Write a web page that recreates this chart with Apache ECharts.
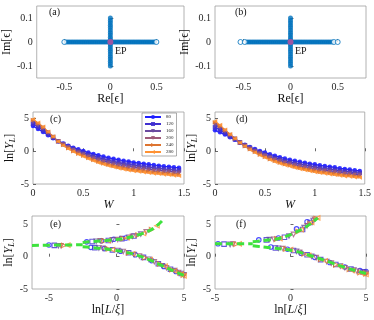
<!DOCTYPE html>
<html>
<head>
<meta charset="utf-8">
<script src="https://cdn.jsdelivr.net/npm/echarts@6/dist/echarts.min.js"></script>
<style>
  html, body { margin: 0; padding: 0; background: #fff; }
  #chart { width: 374px; height: 320px; }
</style>
</head>
<body>
<div id="chart"></div>
<script>
// (a),(b) eigenvalues in the complex plane
var reBandA = [-0.48,-0.46,-0.44,-0.42,-0.4,-0.38,-0.36,-0.34,-0.32,-0.3,-0.28,-0.26,-0.24,-0.22,-0.2,-0.18,-0.16,-0.14,-0.12,-0.1,-0.08,-0.06,-0.04,-0.02,0,0.02,0.04,0.06,0.08,0.1,0.12,0.14,0.16,0.18,0.2,0.22,0.24,0.26,0.28,0.3,0.32,0.34,0.36,0.38,0.4,0.42,0.44,0.46,0.48];
var reEndsA = [-0.5, 0.5];
var reBandB = [-0.46,-0.44,-0.42,-0.4,-0.38,-0.36,-0.34,-0.32,-0.3,-0.28,-0.26,-0.24,-0.22,-0.2,-0.18,-0.16,-0.14,-0.12,-0.1,-0.08,-0.06,-0.04,-0.02,0,0.02,0.04,0.06,0.08,0.1,0.12,0.14,0.16,0.18,0.2,0.22,0.24,0.26,0.28,0.3,0.32,0.34,0.36,0.38,0.4,0.42,0.44];
var reEndsB = [-0.53, -0.485, 0.46, 0.5];
var imBand = [-0.1,-0.09,-0.08,-0.07,-0.06,-0.05,-0.04,-0.03,-0.02,-0.01,0,0.01,0.02,0.03,0.04,0.05,0.06,0.07,0.08,0.09,0.1];
var epPoint = [0, 0];

// (c),(d) ln[Y_L] vs W
var sizes = ['80','120','160','200','240','280'];
var W = [0,0.05,0.1,0.15,0.2,0.25,0.3,0.35,0.4,0.45,0.5,0.55,0.6,0.65,0.7,0.75,0.8,0.85,0.9,0.95,1,1.05,1.1,1.15,1.2,1.25,1.3,1.35,1.4,1.45];
var cY80  = [3.85,3.4,2.95,2.45,2.0,1.55,1.2,0.85,0.55,0.3,0.05,-0.2,-0.4,-0.6,-0.8,-1.0,-1.15,-1.3,-1.45,-1.55,-1.7,-1.8,-1.9,-2.0,-2.1,-2.2,-2.3,-2.35,-2.45,-2.5];
var cY120 = [4.2,3.71,3.21,2.63,2.08,1.53,1.1,0.7,0.35,0.05,-0.23,-0.51,-0.75,-0.98,-1.2,-1.4,-1.56,-1.73,-1.88,-2.0,-2.13,-2.23,-2.33,-2.43,-2.53,-2.61,-2.71,-2.76,-2.86,-2.91];
var cY160 = [4.44,3.93,3.4,2.76,2.14,1.52,1.03,0.6,0.21,-0.12,-0.43,-0.73,-0.99,-1.24,-1.47,-1.67,-1.85,-2.03,-2.18,-2.31,-2.43,-2.53,-2.63,-2.73,-2.83,-2.9,-3.0,-3.05,-3.15,-3.2];
var cY200 = [4.63,4.1,3.54,2.86,2.19,1.51,0.98,0.52,0.11,-0.26,-0.58,-0.9,-1.18,-1.45,-1.69,-1.89,-2.08,-2.26,-2.41,-2.55,-2.66,-2.76,-2.86,-2.96,-3.06,-3.13,-3.23,-3.28,-3.38,-3.43];
var cY240 = [4.77,4.24,3.65,2.93,2.22,1.51,0.94,0.45,0.02,-0.36,-0.7,-1.04,-1.32,-1.61,-1.86,-2.06,-2.25,-2.44,-2.59,-2.74,-2.84,-2.94,-3.04,-3.14,-3.24,-3.3,-3.4,-3.45,-3.55,-3.6];
var cY280 = [4.9,4.35,3.75,3.0,2.25,1.5,0.9,0.4,-0.05,-0.45,-0.8,-1.15,-1.45,-1.75,-2.0,-2.2,-2.4,-2.6,-2.75,-2.9,-3.0,-3.1,-3.2,-3.3,-3.4,-3.45,-3.55,-3.6,-3.7,-3.75];
var dY80  = [3.2,2.9,2.55,2.15,1.75,1.35,1.0,0.65,0.35,0.05,-0.2,-0.45,-0.7,-0.9,-1.1,-1.3,-1.45,-1.6,-1.75,-1.9,-2.0,-2.15,-2.25,-2.35,-2.45,-2.6,-2.7,-2.8,-2.9,-3.0];
var dY120 = [3.66,3.26,2.8,2.3,1.82,1.33,0.92,0.52,0.17,-0.16,-0.45,-0.73,-1.0,-1.21,-1.43,-1.63,-1.8,-1.96,-2.11,-2.26,-2.38,-2.53,-2.63,-2.73,-2.83,-2.96,-3.06,-3.15,-3.25,-3.33];
var dY160 = [3.98,3.52,2.97,2.4,1.86,1.32,0.86,0.43,0.04,-0.31,-0.62,-0.93,-1.2,-1.43,-1.66,-1.86,-2.04,-2.22,-2.37,-2.52,-2.64,-2.79,-2.89,-2.99,-3.09,-3.22,-3.32,-3.39,-3.49,-3.56];
var dY200 = [4.24,3.71,3.11,2.48,1.9,1.31,0.82,0.35,-0.06,-0.43,-0.76,-1.08,-1.37,-1.6,-1.84,-2.04,-2.23,-2.41,-2.56,-2.71,-2.85,-3.0,-3.1,-3.2,-3.3,-3.41,-3.51,-3.58,-3.68,-3.74];
var dY240 = [4.43,3.87,3.21,2.55,1.93,1.31,0.78,0.3,-0.13,-0.52,-0.86,-1.2,-1.49,-1.74,-1.98,-2.18,-2.37,-2.57,-2.72,-2.87,-3.01,-3.16,-3.26,-3.36,-3.46,-3.57,-3.67,-3.72,-3.82,-3.88];
var dY280 = [4.6,4.0,3.3,2.6,1.95,1.3,0.75,0.25,-0.2,-0.6,-0.95,-1.3,-1.6,-1.85,-2.1,-2.3,-2.5,-2.7,-2.85,-3.0,-3.15,-3.3,-3.4,-3.5,-3.6,-3.7,-3.8,-3.85,-3.95,-4.0];

// (e),(f) scaling collapse: [ln(L/xi), ln Y_L]
var e80  = [[-5,1.8],[-2.2,2.3],[-1.1,2.45],[-0.2,2.7],[0.7,2.9],[-1.9,1.45],[-0.9,1.25],[0.3,0.85],[1.4,0.3],[2.6,-0.6],[3.5,-1.5],[4.4,-2.3]];
var e120 = [[-4.6,1.75],[-1.8,2.35],[-0.6,2.5],[0.4,2.8],[1.3,3.2],[-1.6,1.4],[-0.3,1.05],[0.9,0.6],[2.0,-0.1],[3.1,-1.1],[4.0,-1.95],[4.8,-2.6]];
var e160 = [[-4.3,1.7],[-1.5,2.4],[-0.3,2.6],[0.9,3.0],[1.8,3.5],[-1.3,1.35],[0.1,0.95],[1.3,0.35],[2.4,-0.4],[3.4,-1.4],[4.3,-2.15],[5.0,-2.8]];
var e200 = [[-4.1,1.7],[-1.2,2.45],[0.1,2.65],[1.2,3.15],[2.2,3.85],[-1.0,1.3],[0.5,0.8],[1.7,0.1],[2.8,-0.8],[3.7,-1.7],[4.6,-2.45],[5.0,-2.9]];
var e240 = [[-3.9,1.75],[-0.9,2.45],[0.5,2.8],[1.6,3.35],[2.6,4.2],[-0.6,1.2],[0.9,0.6],[2.1,-0.15],[3.2,-1.1],[4.1,-2.0],[4.7,-2.5],[4.95,-2.85]];
var e280 = [[-3.6,1.8],[-0.6,2.5],[0.8,2.95],[2.0,3.6],[3.0,4.8],[-0.3,1.1],[1.2,0.45],[2.5,-0.45],[3.6,-1.45],[4.3,-2.2],[4.8,-2.65],[5.0,-2.95]];
var eFitFlat  = [[-6.25,1.75],[-2.5,1.85]];
var eFitUpper = [[-2.5,2.2],[-2,2.3],[-1,2.45],[0,2.65],[1,3.0],[1.5,3.3],[2,3.65],[2.5,4.1],[3,4.8],[3.4,5.6]];
var eFitLower = [[-2.5,1.55],[-2,1.45],[-1,1.25],[0,0.95],[1,0.55],[2,-0.1],[3,-1.0],[4,-2.0],[5,-2.9]];

var f80  = [[-4.8,2.0],[-2.1,2.6],[-0.8,2.9],[0.4,4.3],[1.1,5.4],[-1.3,1.5],[-0.2,1.15],[0.7,0.55],[1.6,-0.1],[2.6,-0.9],[3.6,-1.6],[4.6,-2.15],[5,-2.3]];
var f120 = [[-4.4,1.95],[-1.6,2.6],[-0.4,3.0],[0.8,4.2],[1.3,5.3],[-1.0,1.35],[0.2,0.95],[1.1,0.3],[2.0,-0.45],[3.0,-1.2],[4.0,-1.9],[4.8,-2.35]];
var f160 = [[-4.0,1.9],[-1.4,2.65],[-0.1,3.2],[0.9,4.5],[1.5,5.6],[-0.8,1.3],[0.4,0.85],[1.4,0.05],[2.4,-0.75],[3.3,-1.45],[4.2,-2.05],[4.9,-2.45]];
var f200 = [[-3.8,1.95],[-1.1,2.7],[0.2,3.45],[1.1,4.8],[1.6,5.8],[-0.5,1.25],[0.6,0.7],[1.7,-0.15],[2.7,-1.0],[3.6,-1.7],[4.4,-2.25],[5.0,-2.6]];
var f240 = [[-3.6,1.95],[-0.9,2.75],[0.5,3.9],[1.3,5.1],[1.7,5.9],[-0.3,1.2],[0.9,0.45],[2.0,-0.4],[3.0,-1.25],[3.9,-1.95],[4.6,-2.45],[5.0,-2.65]];
var f280 = [[-3.4,2.0],[-0.7,2.8],[0.7,4.2],[1.4,5.3],[1.8,6.0],[0.0,1.1],[1.2,0.2],[2.3,-0.65],[3.3,-1.5],[4.1,-2.15],[4.7,-2.55],[5.0,-2.75]];
var fFitFlat  = [[-5,2.0],[-2.5,2.0]];
var fFitUpper = [[-2.5,2.3],[-2,2.45],[-1,2.7],[-0.5,3.0],[0,3.4],[0.5,3.95],[1,4.6],[1.5,5.4],[1.8,6.0]];
var fFitLower = [[-2.5,1.7],[-2,1.55],[-1,1.3],[0,1.0],[0.5,0.75],[1,0.4],[2,-0.35],[3,-1.2],[4,-1.95],[5,-2.6]];

var reTicks = [-0.5, 0, 0.5];
var imTicks = [-0.1, 0, 0.1];
var wTicks = [0, 0.5, 1, 1.5];
var yTicks = [-5, 0, 5];
var eTicksX = [-5, 0, 5];

var colors = ['#1f1fff', '#4030d0', '#6a4aa0', '#9e5a78', '#dd7430', '#ff9233'];
var symbols = ['circle', 'rect', 'triangle', 'triangle', 'triangle', 'triangle'];
var rotates = [0, 0, 180, 180, -90, 90];
var font = 'Liberation Serif, "DejaVu Serif", serif';
var blue = '#0072bd';

var grids = [
  {left: 34, top: 6, width: 150, height: 72},
  {left: 215, top: 6, width: 151, height: 72},
  {left: 33, top: 112, width: 151, height: 72},
  {left: 215, top: 112, width: 151, height: 72},
  {left: 32, top: 216, width: 152, height: 73},
  {left: 215, top: 216, width: 151, height: 73}
];
grids.forEach(function(g) {
  g.show = true; g.borderColor = '#a0a0a0'; g.borderWidth = 0.8; g.backgroundColor = '#fff';
});

function xAx(i, min, max, ticks, name, gap, style) {
  return {
    type: 'value', gridIndex: i, min: min, max: max,
    name: name, nameLocation: 'middle', nameGap: gap,
    nameTextStyle: style,
    axisLine: {show: false},
    axisTick: {inside: true, length: 3, lineStyle: {color: '#444', width: 0.8}, customValues: ticks},
    axisLabel: {fontSize: 10, color: '#262626', fontFamily: font, margin: 4, customValues: ticks},
    splitLine: {show: false}
  };
}
function yAx(i, min, max, ticks, name, gap, style) {
  return {
    type: 'value', gridIndex: i, min: min, max: max,
    name: name, nameLocation: 'middle', nameGap: gap,
    nameTextStyle: style,
    axisLine: {show: false},
    axisTick: {inside: true, length: 3, lineStyle: {color: '#444', width: 0.8}, customValues: ticks},
    axisLabel: {fontSize: 10, color: '#262626', fontFamily: font, margin: 4, customValues: ticks},
    splitLine: {show: false}
  };
}

var plain = {fontSize: 12, color: '#111', fontFamily: font};
var lnYName = '{n|ln[}{i|Y}{s|L}{n|]}';
var lnYStyle = {fontSize: 12, color: '#111', fontFamily: font, rich: {
  n: {fontSize: 12, fontFamily: font, color: '#111'},
  i: {fontSize: 12, fontFamily: font, fontStyle: 'italic', color: '#111'},
  s: {fontSize: 8, fontFamily: font, fontStyle: 'italic', color: '#111', verticalAlign: 'bottom', padding: [5, 0, 0, 0]}
}};
var lnLName = '{n|ln[}{i|L}{n|/}{i|ξ}{n|]}';
var lnLStyle = {fontSize: 12, color: '#111', fontFamily: font, rich: {
  n: {fontSize: 12, fontFamily: font, color: '#111'},
  i: {fontSize: 12, fontFamily: font, fontStyle: 'italic', color: '#111'}
}};
var wStyle = {fontSize: 12, color: '#111', fontFamily: font, fontStyle: 'italic'};

var xAxes = [
  xAx(0, -0.8, 0.8, reTicks, 'Re[ϵ]', 13, plain),
  xAx(1, -0.8, 0.8, reTicks, 'Re[ϵ]', 13, plain),
  xAx(2, 0, 1.5, wTicks, 'W', 14, wStyle),
  xAx(3, 0, 1.5, wTicks, 'W', 14, wStyle),
  xAx(4, -6.25, 5, eTicksX, lnLName, 12, lnLStyle),
  xAx(5, -5, 5, eTicksX, lnLName, 12, lnLStyle)
];
var yAxes = [
  yAx(0, -0.15, 0.15, imTicks, 'Im[ϵ]', 18, plain),
  yAx(1, -0.15, 0.15, imTicks, 'Im[ϵ]', 18, plain),
  yAx(2, -5, 6, yTicks, lnYName, 16, lnYStyle),
  yAx(3, -5, 6, yTicks, lnYName, 16, lnYStyle),
  yAx(4, -5, 6.3, yTicks, lnYName, 16, lnYStyle),
  yAx(5, -5, 6.3, yTicks, lnYName, 16, lnYStyle)
];

var series = [];

function eigSeries(idx, band, ends) {
  series.push({
    type: 'scatter', xAxisIndex: idx, yAxisIndex: idx, symbol: 'circle', symbolSize: 5,
    itemStyle: {color: blue}, silent: true,
    data: band.map(function(v) { return [v, 0]; })
  });
  series.push({
    type: 'scatter', xAxisIndex: idx, yAxisIndex: idx, symbol: 'circle', symbolSize: 5,
    itemStyle: {color: blue}, silent: true,
    data: imBand.map(function(v) { return [0, v]; })
  });
  series.push({
    type: 'scatter', xAxisIndex: idx, yAxisIndex: idx, symbol: 'circle', symbolSize: 5,
    itemStyle: {color: '#fff', borderColor: blue, borderWidth: 1}, silent: true,
    data: ends.map(function(v) { return [v, 0]; })
  });
  series.push({
    type: 'scatter', xAxisIndex: idx, yAxisIndex: idx, symbol: 'circle', symbolSize: 6,
    itemStyle: {color: '#c2509e'}, silent: true, z: 5,
    data: [epPoint]
  });
}
eigSeries(0, reBandA, reEndsA);
eigSeries(1, reBandB, reEndsB);

var cSets = [cY80, cY120, cY160, cY200, cY240, cY280];
var dSets = [dY80, dY120, dY160, dY200, dY240, dY280];
function lineSeries(idx, sets) {
  sets.forEach(function(vals, k) {
    series.push({
      name: sizes[k], type: 'line', xAxisIndex: idx, yAxisIndex: idx,
      symbol: symbols[k], symbolRotate: rotates[k], symbolSize: 4.5,
      lineStyle: {color: colors[k], width: 1.2},
      itemStyle: {color: colors[k], opacity: 0.9},
      data: W.map(function(w, j) { return [w, vals[j]]; })
    });
  });
}
lineSeries(2, cSets);
lineSeries(3, dSets);

function collapse(idx, sets, flat, upper, lower) {
  sets.forEach(function(pts, k) {
    series.push({
      name: sizes[k], type: 'scatter', xAxisIndex: idx, yAxisIndex: idx,
      symbol: symbols[k], symbolRotate: rotates[k], symbolSize: 4.5,
      itemStyle: {color: 'rgba(255,255,255,0)', borderColor: colors[k], borderWidth: 1.1},
      data: pts
    });
  });
  [flat, upper, lower].forEach(function(curve) {
    series.push({
      type: 'line', xAxisIndex: idx, yAxisIndex: idx, showSymbol: false, smooth: 0.3, z: 4,
      lineStyle: {color: '#3ee23e', width: 3, type: [7, 4]},
      data: curve
    });
  });
}
collapse(4, [e80, e120, e160, e200, e240, e280], eFitFlat, eFitUpper, eFitLower);
collapse(5, [f80, f120, f160, f200, f240, f280], fFitFlat, fFitUpper, fFitLower);

function label(txt, x, y) {
  return {type: 'text', left: x, top: y, z: 100, style: {text: txt, fontSize: 10, fontFamily: font, fill: '#111'}};
}

var option = {
  animation: false,
  backgroundColor: '#fff',
  textStyle: {fontFamily: font},
  grid: grids,
  xAxis: xAxes,
  yAxis: yAxes,
  legend: {
    data: sizes, orient: 'vertical', left: 142, top: 113,
    itemWidth: 16, itemHeight: 5, itemGap: 1,
    textStyle: {fontSize: 5, lineHeight: 6, color: '#222', fontFamily: font},
    backgroundColor: '#fff', borderColor: '#777', borderWidth: 0.6, borderRadius: 0,
    padding: [1, 3, 1, 2], selectedMode: false
  },
  graphic: [
    label('(a)', 49, 7), label('(b)', 235, 7),
    label('(c)', 50, 114), label('(d)', 236, 114),
    label('(e)', 50, 219), label('(f)', 236, 219),
    label('EP', 115, 46), label('EP', 295, 46)
  ],
  series: series
};

var chart = echarts.init(document.getElementById('chart'), null, {renderer: 'canvas'});
chart.setOption(option);
</script>
</body>
</html>
